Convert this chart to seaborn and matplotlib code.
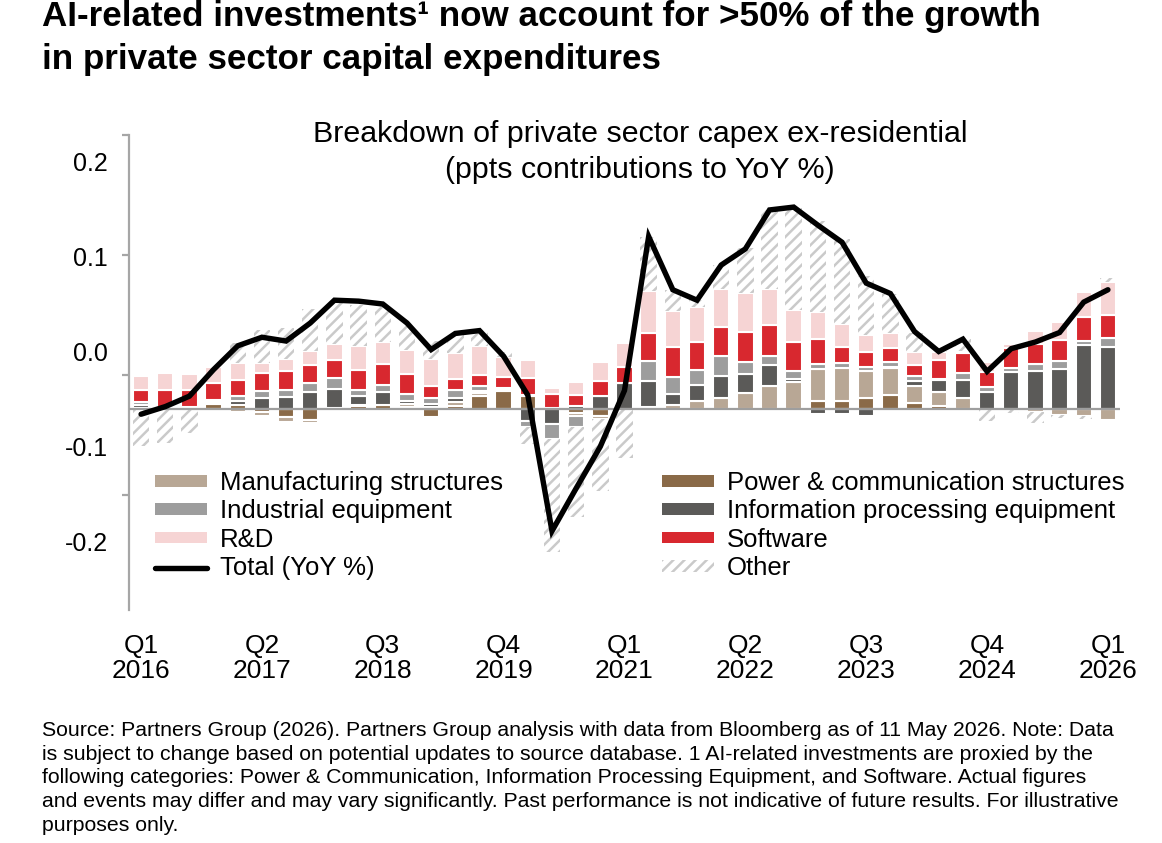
import numpy as np
import pandas as pd
import matplotlib
matplotlib.use("Agg")
import matplotlib.pyplot as plt
from matplotlib.patches import Patch
from matplotlib.lines import Line2D
import seaborn as sns

# ---------------- data (ppts contributions, quarterly Q1 2016 .. Q1 2026) ----------------
quarters = [f"Q{q} {y}" for y in range(2016, 2027) for q in range(1, 5)][:41]

power = [0, 0, 0, 0.005, 0.004, -0.004, -0.009, -0.012, 0, 0.003,
         0.004, 0.002, -0.009, 0.003, 0.013, 0.018, 0.013, 0, -0.005, -0.008,
         0, 0, 0, 0, 0, 0, 0, 0, 0.008, 0.008,
         0.011, 0.014, 0.006, 0.003, 0, 0, 0, 0, 0, 0, 0]
manufacturing = [0.001, 0.002, 0.002, -0.002, -0.004, -0.004, -0.005, -0.003, 0.001, 0.001,
                 0, 0.003, 0.002, 0.004, 0.003, 0.002, 0.001, 0.001, -0.003, -0.003,
                 0, 0.002, 0.004, 0.008, 0.011, 0.016, 0.024, 0.028, 0.034, 0.035,
                 0.029, 0.029, 0.018, 0.014, 0.011, -0.002, 0, -0.004, -0.007, -0.008, -0.012]
info_processing = [0.003, 0, 0, 0.002, 0.004, 0.011, 0.012, 0.017, 0.020, 0.009,
                   0.013, 0.003, 0.003, 0.004, 0.002, -0.002, -0.013, -0.016, 0.003, 0.013,
                   0.027, 0.027, 0.011, 0.017, 0.023, 0.020, 0.022, 0.003, -0.006, -0.006,
                   -0.008, 0.001, 0.005, 0.013, 0.019, 0.017, 0.038, 0.039, 0.042, 0.067, 0.065]
industrial = [0.003, 0, 0, 0.002, 0.005, 0.007, 0.008, 0.010, 0.011, 0.006,
              0.008, 0.007, 0.006, 0.008, 0.006, 0.002, -0.006, -0.016, -0.011, 0,
              0, 0.021, 0.018, 0.016, 0.021, 0.013, 0.009, 0.008, 0.005, 0.005,
              0.004, 0.005, 0.005, 0.001, 0.007, 0.006, 0.005, 0.008, 0.008, 0.004, 0.009]
software = [0.013, 0.017, 0.017, 0.018, 0.017, 0.019, 0.019, 0.019, 0.019, 0.022,
            0.022, 0.021, 0.013, 0.012, 0.011, 0.011, 0.018, 0.014, 0.011, 0.016,
            0.017, 0.030, 0.032, 0.029, 0.031, 0.032, 0.033, 0.031, 0.026, 0.017,
            0.015, 0.015, 0.012, 0.020, 0.021, 0.015, 0.021, 0.021, 0.022, 0.025, 0.024]
rnd = [0.014, 0.018, 0.017, 0.017, 0.018, 0.011, 0.013, 0.015, 0.017, 0.025,
       0.023, 0.026, 0.028, 0.027, 0.031, 0.021, 0.019, 0.007, 0.014, 0.020,
       0.025, 0.044, 0.038, 0.037, 0.040, 0.041, 0.038, 0.034, 0.029, 0.024,
       0.018, 0.015, 0.013, 0.008, 0.003, 0.011, 0.004, 0.014, 0.019, 0.027, 0.035]
other = [-0.039, -0.036, -0.026, 0, 0.021, 0.035, 0.033, 0.044, 0.046, 0.043,
         0.039, 0.026, 0.019, 0.020, 0.017, 0.005, -0.018, -0.119, -0.095, -0.076,
         -0.052, 0.057, 0.022, 0.007, 0.025, 0.047, 0.083, 0.107, 0.095, 0.089,
         0.063, 0.042, 0.021, 0.003, 0.012, -0.011, -0.005, -0.011, -0.003, -0.003, 0.004]
total = [-0.006, 0.002, 0.013, 0.041, 0.066, 0.075, 0.071, 0.090, 0.114, 0.113,
         0.110, 0.090, 0.062, 0.079, 0.082, 0.055, 0.014, -0.129, -0.084, -0.040,
         0.019, 0.181, 0.125, 0.114, 0.151, 0.168, 0.209, 0.212, 0.193, 0.175,
         0.132, 0.121, 0.081, 0.060, 0.073, 0.039, 0.063, 0.070, 0.080, 0.112, 0.125]

tick_quarters = ["Q1 2016", "Q2 2017", "Q3 2018", "Q4 2019", "Q1 2021",
                 "Q2 2022", "Q3 2023", "Q4 2024", "Q1 2026"]
ytick_values = [0.2, 0.1, 0.0, -0.1, -0.2]
ytick_labels = ["0.2", "0.1", "0.0", "-0.1", "-0.2"]

# ---------------- style ----------------
sns.set_theme(style="white")
plt.rcParams["font.family"] = ["Liberation Sans", "DejaVu Sans"]
plt.rcParams["hatch.linewidth"] = 1.8
for key in ["text.color", "axes.labelcolor", "xtick.color", "ytick.color"]:
    plt.rcParams[key] = "black"

C_MANUF = "#B8A795"
C_POWER = "#8A6A48"
C_INDUS = "#9D9D9D"
C_INFO = "#5B5A58"
C_SOFT = "#D8282F"
C_RND = "#F6D4D4"
C_HATCH = "#CACACA"
C_AXIS = "#A6A6A6"

W, H = 1162, 843
fig = plt.figure(figsize=(W / 100, H / 100), dpi=100)
ax = fig.add_axes([129 / W, 1 - 610 / H, 991 / W, 475 / H])

series = [
    (power, dict(color=C_POWER, edgecolor="white", linewidth=1.5)),
    (manufacturing, dict(color=C_MANUF, edgecolor="white", linewidth=1.5)),
    (info_processing, dict(color=C_INFO, edgecolor="white", linewidth=1.5)),
    (industrial, dict(color=C_INDUS, edgecolor="white", linewidth=1.5)),
    (software, dict(color=C_SOFT, edgecolor="white", linewidth=1.5)),
    (rnd, dict(color=C_RND, edgecolor="white", linewidth=1.5)),
    (other, dict(color="white", edgecolor=C_HATCH, linewidth=0, hatch="///")),
]

pos_base = np.zeros(len(quarters))
neg_base = np.zeros(len(quarters))
for vals, style in series:
    v = np.asarray(vals, dtype=float)
    bottom = np.where(v >= 0, pos_base, neg_base)
    df = pd.DataFrame({"quarter": quarters, "value": v})
    sns.barplot(data=df, x="quarter", y="value", bottom=bottom, ax=ax,
                width=0.68, saturation=1, errorbar=None, **style)
    pos_base += np.clip(v, 0, None)
    neg_base += np.clip(v, None, 0)

ax.axhline(0, color="#9E9E9E", linewidth=1.6, zorder=3)

line_df = pd.DataFrame({"pos": np.arange(len(quarters)), "total": total})
sns.lineplot(data=line_df, x="pos", y="total", ax=ax, color="black",
             linewidth=3.9, zorder=5, solid_joinstyle="miter")

ax.set_xlim(-0.5, len(quarters) - 0.5)
ylim = (-0.2121, 0.2879)
ax.set_ylim(*ylim)
ax.set_xlabel("")
ax.set_ylabel("")

# x tick labels
xpos = [quarters.index(q) for q in tick_quarters]
ax.set_xticks(xpos, [q.replace(" ", "\n") for q in tick_quarters])
ax.tick_params(axis="x", length=0, pad=17.5, labelsize=19, colors="black")
for lab in ax.get_xticklabels():
    lab.set_linespacing(1.02)

# left spine with its tick marks
tick_marks = ylim[1] - 0.0001 - np.arange(4) * 0.12632
ax.set_yticks(tick_marks, [""] * 4)
ax.tick_params(axis="y", left=True, length=5, width=1.6, color=C_AXIS, direction="out")
sns.despine(ax=ax, top=True, right=True, bottom=True, left=False)
ax.spines["left"].set_color(C_AXIS)
ax.spines["left"].set_linewidth(1.6)

# value labels on the left
ax_lab = ax.twinx()
ax_lab.set_ylim(-0.2716, 0.2284)
ax_lab.yaxis.tick_left()
ax_lab.set_yticks(ytick_values, ytick_labels)
ax_lab.tick_params(axis="y", length=0, pad=15, labelsize=18, colors="black")
for s in ax_lab.spines.values():
    s.set_visible(False)
ax_lab.set_ylabel("")

# legends
fs_leg = 18.5
fs_px = fs_leg * 100 / 72
leg_kw = dict(loc="upper left", frameon=False, fontsize=fs_leg, borderpad=0,
              borderaxespad=0, handlelength=52 / fs_px, handleheight=0.32,
              handletextpad=13 / fs_px, labelspacing=0.17)
h1 = [Patch(facecolor=C_MANUF, edgecolor="none"),
      Patch(facecolor=C_INDUS, edgecolor="none"),
      Patch(facecolor=C_RND, edgecolor="none"),
      Line2D([], [], color="black", linewidth=3.9)]
l1 = ["Manufacturing structures", "Industrial equipment", "R&D", "Total (YoY %)"]
h2 = [Patch(facecolor=C_POWER, edgecolor="none"),
      Patch(facecolor=C_INFO, edgecolor="none"),
      Patch(facecolor=C_SOFT, edgecolor="none"),
      Patch(facecolor="white", edgecolor=C_HATCH, hatch="///", linewidth=0)]
l2 = ["Power & communication structures", "Information processing equipment",
      "Software", "Other"]
leg1 = fig.legend(h1, l1, bbox_to_anchor=(155 / W, 1 - 471 / H), **leg_kw)
leg2 = fig.legend(h2, l2, bbox_to_anchor=(662 / W, 1 - 471 / H), **leg_kw)

# titles
fig.text(42 / W, 1 - 26 / H, "AI-related investments¹ now account for >50% of the growth",
         fontsize=25.2, fontweight="bold", ha="left", va="baseline")
fig.text(42 / W, 1 - 69 / H, "in private sector capital expenditures",
         fontsize=25.2, fontweight="bold", ha="left", va="baseline")
fig.text(640 / W, 1 - 142.5 / H, "Breakdown of private sector capex ex-residential",
         fontsize=21.9, ha="center", va="baseline")
fig.text(640 / W, 1 - 178 / H, "(ppts contributions to YoY %)",
         fontsize=21.9, ha="center", va="baseline")

footer = [
    "Source: Partners Group (2026). Partners Group analysis with data from Bloomberg as of 11 May 2026. Note: Data",
    "is subject to change based on potential updates to source database. 1 AI-related investments are proxied by the",
    "following categories: Power & Communication, Information Processing Equipment, and Software. Actual figures",
    "and events may differ and may vary significantly. Past performance is not indicative of future results. For illustrative",
    "purposes only.",
]
for k, line in enumerate(footer):
    fig.text(42 / W, 1 - (736 + 23.7 * k) / H, line, fontsize=15.3,
             ha="left", va="baseline")

fig.savefig("out.png", dpi=100)
